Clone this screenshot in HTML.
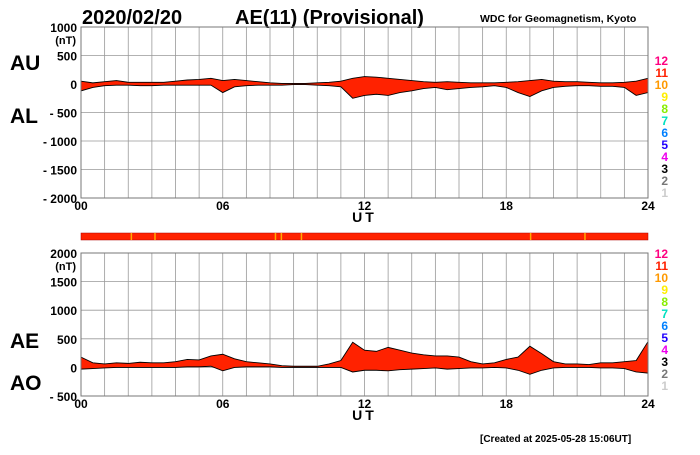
<!DOCTYPE html>
<html><head><meta charset="utf-8"><style>
body{margin:0;background:#fff;width:700px;height:450px;overflow:hidden;font-family:"Liberation Sans",Arial,sans-serif}
svg text{font-family:"Liberation Sans",Arial,sans-serif;font-weight:bold}
</style></head><body>
<svg id="c" width="700" height="450" xmlns="http://www.w3.org/2000/svg">
<text x="82" y="24" font-size="20">2020/02/20</text>
<text x="235" y="24" font-size="20">AE(11) (Provisional)</text>
<text x="480" y="22" font-size="10.5">WDC for Geomagnetism, Kyoto</text>
<text x="10" y="70" font-size="21">AU</text>
<text x="10" y="123" font-size="21">AL</text>
<text x="10" y="348" font-size="21">AE</text>
<text x="10" y="390" font-size="21">AO</text>
<text x="480" y="442" font-size="10">[Created at 2025-05-28 15:06UT]</text>
<g id="top"></g>
<g id="bot"></g>
<g id="strip"></g>
<g id="leg"></g>
</svg>
<script>
const hours=[0,0.5,1,1.5,2,2.5,3,3.5,4,4.5,5,5.5,6,6.5,7,7.5,8,8.5,9,9.5,10,10.5,11,11.5,12,12.5,13,13.5,14,14.5,15,15.5,16,16.5,17,17.5,18,18.5,19,19.5,20,20.5,21,21.5,22,22.5,23,23.5,24];
const auVals=[50,20,40,60,30,30,30,30,50,70,80,100,60,80,60,40,20,10,10,10,20,30,50,100,130,120,100,80,60,40,30,40,30,20,20,20,30,40,60,80,50,40,40,30,20,20,30,50,100];
const alVals=[-120,-60,-30,-20,-20,-30,-30,-20,-20,-20,-20,-20,-150,-50,-30,-20,-20,-20,-10,-10,-20,-30,-50,-250,-200,-180,-200,-150,-120,-80,-60,-100,-80,-60,-50,-30,-60,-150,-220,-120,-60,-40,-30,-30,-40,-40,-60,-200,-150];
const aeVals=[180,80,60,80,70,90,80,80,100,140,130,200,230,150,100,80,60,30,20,20,20,60,120,440,300,280,350,300,250,220,200,200,180,100,60,80,140,180,370,240,100,60,60,50,80,80,100,120,450];
const aoVals=[-30,-20,-10,0,0,0,0,0,0,10,10,20,-60,0,10,10,10,0,0,0,0,0,0,-80,-50,-50,-60,-40,-30,-20,-10,-30,-20,-10,-10,0,-10,-50,-120,-50,-10,0,0,0,-10,-10,-20,-80,-100];
const topTicks=[1000,500,0,-500,-1000,-1500,-2000];
const botTicks=[2000,1500,1000,500,0,-500];
const xTicks=[0,6,12,18,24];
const stripMarks=[2.1,3.1,8.2,8.45,9.3,19.0,21.3];
const legendNums=['12','11','10','9','8','7','6','5','4','3','2','1'];
const legendCols=['#ff0080','#ff2000','#ff9900','#ffee00','#88ee00','#00e0c0','#0080ff','#2000ff','#ee00ee','#000','#777','#ccc'];
const NS='http://www.w3.org/2000/svg';
const X0=81,X1=648;
const xs=h=>X0+(X1-X0)*h/24;
function mk(p,t,a){const e=document.createElementNS(NS,t);for(const k in a)e.setAttribute(k,a[k]);p.appendChild(e);return e;}
function panel(g,yTop,yBot,vmax,vmin,ticks,up,lo,nm){
  const ys=v=>yTop+(vmax-v)/(vmax-vmin)*(yBot-yTop);
  for(let h=0;h<=24;h++){const l=mk(g,'line',{x1:xs(h),x2:xs(h),y1:yTop,y2:yBot,stroke:'#999','stroke-width':0.8});
    }
  ticks.forEach(t=>{const l=mk(g,'line',{x1:X0,x2:X1,y1:ys(t),y2:ys(t),stroke:'#999','stroke-width':0.8});
    
    const tx=mk(g,'text',{x:X0-4,y:ys(t)+5,'text-anchor':'end','font-size':12});
    tx.textContent=t<0?'- '+(-t):t;
    });
  const u=mk(g,'text',{x:X0-5,y:ys(ticks[0])+17,'text-anchor':'end','font-size':11});u.textContent='(nT)';
  
  let d='M'+hours.map((h,i)=>xs(h)+','+ys(up[i])).join('L');
  d+='L'+hours.slice().reverse().map((h,j)=>xs(h)+','+ys(lo[lo.length-1-j])).join('L')+'Z';
  const a=mk(g,'path',{d:d,fill:'#ff2200',stroke:'#000','stroke-width':0.9});
  
  const f=mk(g,'rect',{x:X0,y:yTop,width:X1-X0,height:yBot-yTop,fill:'none',stroke:'#777','stroke-width':1});
  
  xTicks.forEach(t=>{const tx=mk(g,'text',{x:xs(t),y:yBot+12,'text-anchor':'middle','font-size':12});
    tx.textContent=String(t).padStart(2,'0');});
  const ut=mk(g,'text',{x:(X0+X1)/2,y:yBot+24,'text-anchor':'middle','font-size':14,'letter-spacing':'3'});ut.textContent='UT';
  
}
panel(document.getElementById('top'),27,198,1000,-2000,topTicks,auVals,alVals,'au-al-area');
panel(document.getElementById('bot'),253,396,2000,-500,botTicks,aeVals,aoVals,'ae-ao-area');
const s=document.getElementById('strip');
const r=mk(s,'rect',{x:X0,y:233,width:X1-X0,height:7,fill:'#ff2200',stroke:'#a00','stroke-width':0.5});

stripMarks.forEach(h=>{const m=mk(s,'rect',{x:xs(h),y:233,width:1.5,height:7,fill:'#ffaa00'});
  });
const lg=document.getElementById('leg');
[[65],[258]].forEach((b,bi)=>{legendNums.forEach((n,i)=>{const t=mk(lg,'text',{x:668,y:b[0]+i*12,'text-anchor':'end','font-size':12,fill:legendCols[i]});
  t.textContent=n;});});
</script>
</body></html>
